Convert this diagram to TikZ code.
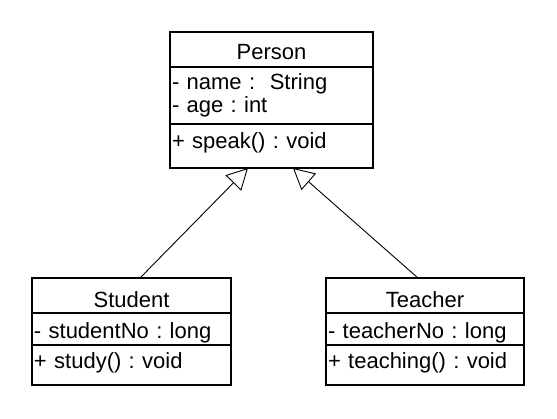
\documentclass[tikz,border=0pt]{standalone}
\usepackage{fontspec}
\usetikzlibrary{positioning,arrows.meta}
\newfontfamily\umlfont{Liberation Sans}
\frenchspacing

\tikzset{
  umlbox/.style={draw,line width=1.3pt,outer sep=0pt,inner ysep=0pt,inner xsep=2pt,
    font=\umlfont\fontsize{22}{23}\selectfont},
  namebox/.style={umlbox,align=center},
  membox/.style={umlbox,align=left},
  inherit/.style={line width=0.9pt,-{Triangle[open,length=21pt,width=22pt]}}
}

\begin{document}
\begin{tikzpicture}[x=1pt,y=-1pt]
  \useasboundingbox (0,0) rectangle (557,418);

  % Person
  \node[namebox,minimum width=203pt,text height=27pt,text depth=8pt] (person) at (271.5,49.5) {Person};
  \node[membox,text width=199pt,minimum height=57pt,below=0pt of person] (person-attr) {- name :\ \ String\\- age : int};
  \node[membox,text width=199pt,text height=24pt,text depth=20pt,below=0pt of person-attr] (person-ops) {+ speak() : void};

  % Student
  \node[namebox,minimum width=199pt,text height=29pt,text depth=6pt] (student) at (131.5,295.5) {Student};
  \node[membox,text width=195pt,text height=25pt,text depth=7pt,below=0pt of student] (student-attr) {- studentNo : long};
  \node[membox,text width=195pt,text height=23pt,text depth=17pt,below=0pt of student-attr] (student-ops) {+ study() : void};

  % Teacher
  \node[namebox,minimum width=198pt,text height=29pt,text depth=6pt] (teacher) at (425,295.5) {Teacher};
  \node[membox,text width=194pt,text height=25pt,text depth=7pt,below=0pt of teacher] (teacher-attr) {- teacherNo : long};
  \node[membox,text width=194pt,text height=23pt,text depth=17pt,below=0pt of teacher-attr] (teacher-ops) {+ teaching() : void};

  \draw[inherit] ([xshift=8.5pt]student.north) -- ([xshift=-23.5pt]person-ops.south);
  \draw[inherit] ([xshift=-7pt]teacher.north) -- ([xshift=21.5pt]person-ops.south);

\end{tikzpicture}
\end{document}
